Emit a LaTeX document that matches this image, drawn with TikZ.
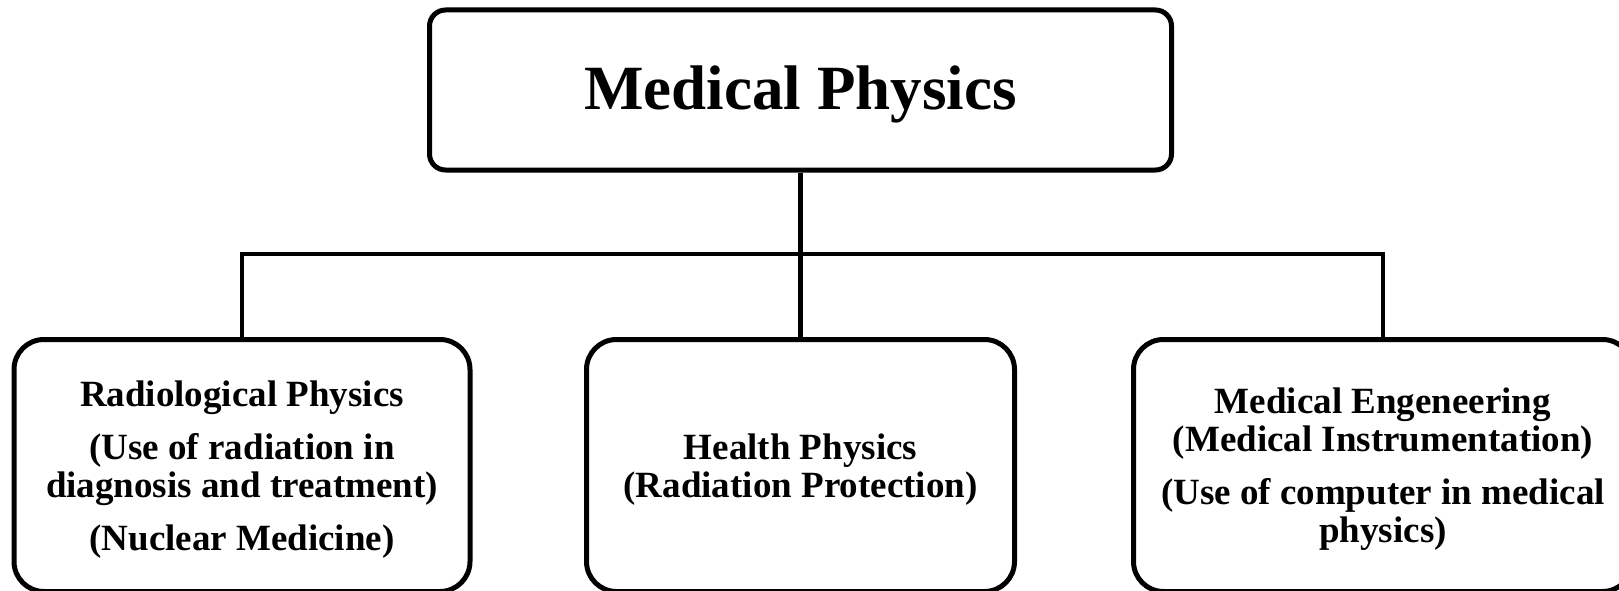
\documentclass[tikz,border=0pt]{standalone}
\usepackage{fontspec}
\setmainfont{Liberation Serif}
\begin{document}
\begin{tikzpicture}[x=1pt,y=-1pt,
  topbox/.style={draw, line width=5pt, rounded corners=16pt, minimum width=742pt, minimum height=160pt, inner sep=0pt},
  toptext/.style={inner sep=0pt, font=\fontsize{63}{66}\selectfont\bfseries},
  subbox/.style={draw, line width=5pt, rounded corners=30pt, minimum height=252pt, inner sep=0pt},
  subtext/.style={inner sep=0pt, align=center, font=\fontsize{37}{38}\selectfont\bfseries},
  link/.style={line width=4.5pt}]
\useasboundingbox (0,0) rectangle (1619,591);
\clip (0,0) rectangle (1619,591);
\node[topbox] (top) at (800.5,90) {};
\node[toptext] (toplabel) at ([yshift=-4pt]top.center) {Medical Physics};
\node[subbox, minimum width=456pt] (left) at (242,465.5) {};
\node[subbox, minimum width=428pt] (mid) at (800.5,465.5) {};
\node[subbox, minimum width=499pt] (right) at (1383,465.5) {};
\node[subtext] (lefttext) at ([yshift=-4pt]left.center) {Radiological Physics\\[15pt](Use of radiation in\\diagnosis and treatment)\\[15pt](Nuclear Medicine)};
\node[subtext] (midtext) at ([yshift=-4pt]mid.center) {Health Physics\\(Radiation Protection)};
\node[subtext] (righttext) at ([yshift=-4pt]right.center) {Medical Engeneering\\(Medical Instrumentation)\\[15pt](Use of computer in medical\\physics)};
\coordinate (bus) at (800.5,254);
\draw[link] (top.south) -- (mid.north);
\draw[link] (left.north) |- (bus) -| (right.north);
\end{tikzpicture}
\end{document}
